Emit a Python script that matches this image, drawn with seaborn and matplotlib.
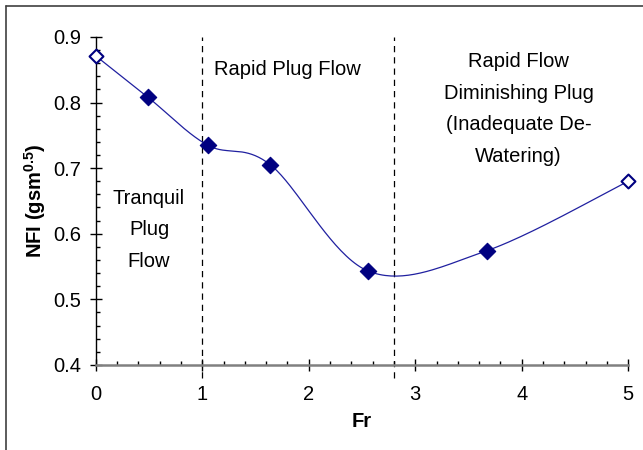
import numpy as np
import matplotlib
matplotlib.use("Agg")
import matplotlib.pyplot as plt
import seaborn as sns
from matplotlib.lines import Line2D
from matplotlib.ticker import MultipleLocator

# data
fr = [0.0, 0.49, 1.05, 1.64, 2.56, 3.67, 5.0]
nfi = [0.871, 0.808, 0.735, 0.705, 0.543, 0.574, 0.680]
hollow = [True, False, False, False, False, False, True]
boundaries = [1.0, 2.8]

navy = "#000080"
line_col = "#2020a0"

sns.set_style("white")
plt.rcParams["font.family"] = ["Liberation Sans", "DejaVu Sans"]
plt.rcParams["text.color"] = "black"
plt.rcParams["axes.labelcolor"] = "black"
plt.rcParams["xtick.color"] = "black"
plt.rcParams["ytick.color"] = "black"
plt.rcParams["mathtext.default"] = "regular"


def excel_smooth(x, y, n=40):
    # Bezier smoothing similar to a spreadsheet "smoothed line"
    p = np.column_stack([x, y])
    p = np.vstack([p[0], p, p[-1]])
    out = []
    t = np.linspace(0, 1, n)[:, None]
    for i in range(1, len(p) - 2):
        p0, p1, p2, p3 = p[i - 1], p[i], p[i + 1], p[i + 2]
        c1 = p1 + (p2 - p0) / 6
        c2 = p2 - (p3 - p1) / 6
        seg = ((1 - t) ** 3) * p1 + 3 * ((1 - t) ** 2) * t * c1 \
            + 3 * (1 - t) * t ** 2 * c2 + t ** 3 * p2
        out.append(seg)
    out = np.vstack(out)
    return out[:, 0], out[:, 1]


fig, ax = plt.subplots(figsize=(6.43, 4.5), dpi=100)
fig.subplots_adjust(left=0.149, right=0.977, top=0.918, bottom=0.189)

sx, sy = excel_smooth(fr, nfi)
ax.plot(sx, sy, color=line_col, lw=0.9, zorder=3)

xf = [a for a, h in zip(fr, hollow) if not h]
yf = [b for b, h in zip(nfi, hollow) if not h]
xh = [a for a, h in zip(fr, hollow) if h]
yh = [b for b, h in zip(nfi, hollow) if h]
sns.scatterplot(x=xf, y=yf, marker="D", s=70, color=navy, edgecolor=navy,
                linewidth=0.8, ax=ax, zorder=4, clip_on=False)
ax.scatter(xh, yh, marker="D", s=50, facecolor="white", edgecolor=navy,
           linewidth=1.5, zorder=4, clip_on=False)

for b in boundaries:
    ax.axvline(b, ymin=-0.04, ymax=1.0, color="black", lw=0.9,
               ls=(0, (5, 4)), clip_on=False, zorder=2)

ax.set_xlim(0, 5)
ax.set_ylim(0.4, 0.9)
ax.xaxis.set_major_locator(MultipleLocator(1))
ax.xaxis.set_minor_locator(MultipleLocator(0.2))
ax.yaxis.set_major_locator(MultipleLocator(0.1))
ax.yaxis.set_minor_locator(MultipleLocator(0.02))
ax.set_xticks(ax.get_xticks())
ax.set_xticklabels([f"{v:g}" for v in ax.get_xticks()])
ax.set_yticks(ax.get_yticks())
ax.set_yticklabels([f"{v:.1f}" for v in ax.get_yticks()])
ax.set_xlim(0, 5)
ax.set_ylim(0.4, 0.9)

for s in ["top", "right"]:
    ax.spines[s].set_visible(False)
ax.spines["left"].set_color("black")
ax.spines["bottom"].set_color("#808080")
ax.spines["left"].set_linewidth(1.0)
ax.spines["bottom"].set_linewidth(1.8)

ax.tick_params(axis="both", which="both", bottom=True, left=True)
ax.tick_params(axis="both", which="major", direction="inout", length=9,
               width=1.0, labelsize=14.5, color="black")
ax.tick_params(axis="both", which="minor", direction="in", length=3,
               width=1.0, color="black")
ax.tick_params(axis="x", which="major", pad=10)
ax.tick_params(axis="y", which="major", pad=6)

ax.set_xlabel("Fr", fontsize=14.5, fontweight="bold", labelpad=6)
ax.set_ylabel("NFI (gsm$^{0.5}$)", fontsize=14.5,
              fontweight="bold", labelpad=4)

ax.text(0.5, 0.606, "Tranquil\nPlug\nFlow", ha="center", va="center",
        fontsize=14.5, linespacing=1.85)
ax.text(1.8, 0.851, "Rapid Plug Flow", ha="center", va="center",
        fontsize=14.5)
ax.text(3.97, 0.79, "Rapid Flow\nDiminishing Plug\n(Inadequate De-\nWatering)",
        ha="center", va="center", fontsize=14.5, linespacing=1.85)

# outer chart frame
fig.add_artist(Line2D([6 / 643, 1.0], [1 - 6 / 450, 1 - 6 / 450],
                      color="#404040", lw=1.2))
fig.add_artist(Line2D([6 / 643, 6 / 643], [0.0, 1 - 6 / 450],
                      color="#404040", lw=1.2))

fig.savefig("out.png", dpi=100)
